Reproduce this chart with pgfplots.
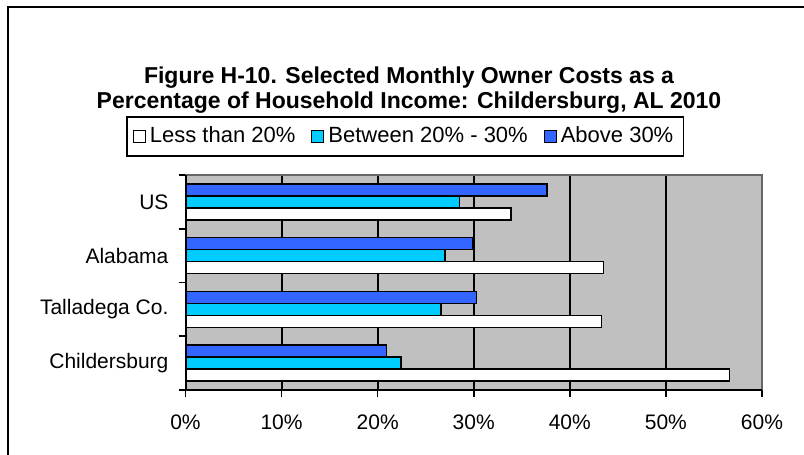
\documentclass[border=0pt]{standalone}
\usepackage{pgfplots}
\pgfplotsset{compat=1.18}
\usepackage{fontspec}
\setmainfont{Liberation Sans}
\definecolor{bgray}{HTML}{C0C0C0}
\definecolor{cyanbar}{HTML}{00CCFF}
\definecolor{bluebar}{HTML}{3366FF}
\begin{document}
\begin{tikzpicture}
\path[use as bounding box] (0pt,0pt) rectangle (402pt,227.5pt);
\draw[line width=1pt] (4pt,-5pt) -- (4pt,223.75pt) -- (410pt,223.75pt);
\node[font=\fontsize{11.5}{14}\selectfont\bfseries] at (204.5pt,188.5pt) {Figure H-10. Selected Monthly Owner Costs as a};
\node[font=\fontsize{11.5}{14}\selectfont\bfseries] at (204.5pt,176pt) {Percentage of Household Income: Childersburg, AL 2010};
\begin{axis}[
  at={(92.75pt,32.5pt)}, anchor=south west,
  scale only axis, width=288.25pt, height=107.5pt,
  xmin=0, xmax=60, ymin=-0.5, ymax=3.5,
  axis background/.style={fill=bgray},
  axis line style={draw=gray!80!black, line width=0.6pt},
  xtick={0,10,20,30,40,50,60},
  xticklabels={0\%,10\%,20\%,30\%,40\%,50\%,60\%},
  ytick={0,1,2,3},
  yticklabels={Childersburg,Talladega Co.,Alabama,US},
  minor ytick={-0.5,0.5,1.5,2.5,3.5},
  xtick pos=bottom, ytick pos=left,
  major tick length=0pt,
  minor tick length=3.5pt,
  minor tick style={draw=black, line width=0.8pt},
  tick align=outside,
  xmajorgrids, major grid style={draw=black, line width=1pt},
  ticklabel style={font=\fontsize{10.5}{12}\selectfont},
  yticklabel style={xshift=-5pt},
  xticklabel style={yshift=-9pt},
  legend style={at={(0.381,1.179)}, anchor=center, draw=black, line width=0.8pt,
    font=\fontsize{11}{13}\selectfont, legend columns=3,
    /tikz/every even column/.append style={column sep=6pt},
    inner sep=3pt},
  legend image code/.code={\draw[#1, draw=black, line width=0.5pt] (0pt,-3pt) rectangle (6pt,3pt);},
  bar width=6pt,
  clip=false,
]
\addplot[xbar, bar shift=-6pt, fill=white, draw=black, line width=0.8pt] coordinates {(56.6,0) (43.3,1) (43.5,2) (33.9,3)};
\addplot[xbar, bar shift=0pt, fill=cyanbar, draw=black, line width=0.8pt] coordinates {(22.4,0) (26.6,1) (27.0,2) (28.5,3)};
\addplot[xbar, bar shift=6pt, fill=bluebar, draw=black, line width=0.8pt] coordinates {(20.9,0) (30.3,1) (29.9,2) (37.6,3)};
\legend{Less than 20\%,Between 20\% - 30\%,Above 30\%}
\draw[black, line width=1pt] (axis cs:0,-0.5) -- (axis cs:0,3.5);
\draw[black, line width=1pt] (axis cs:0,-0.5) -- (axis cs:60,-0.5);
\pgfplotsinvokeforeach{0,10,20,30,40,50,60}{\draw[black, line width=0.8pt] (axis cs:#1,-0.5) -- ++(0pt,-3.5pt);}
\end{axis}
\end{tikzpicture}
\end{document}
